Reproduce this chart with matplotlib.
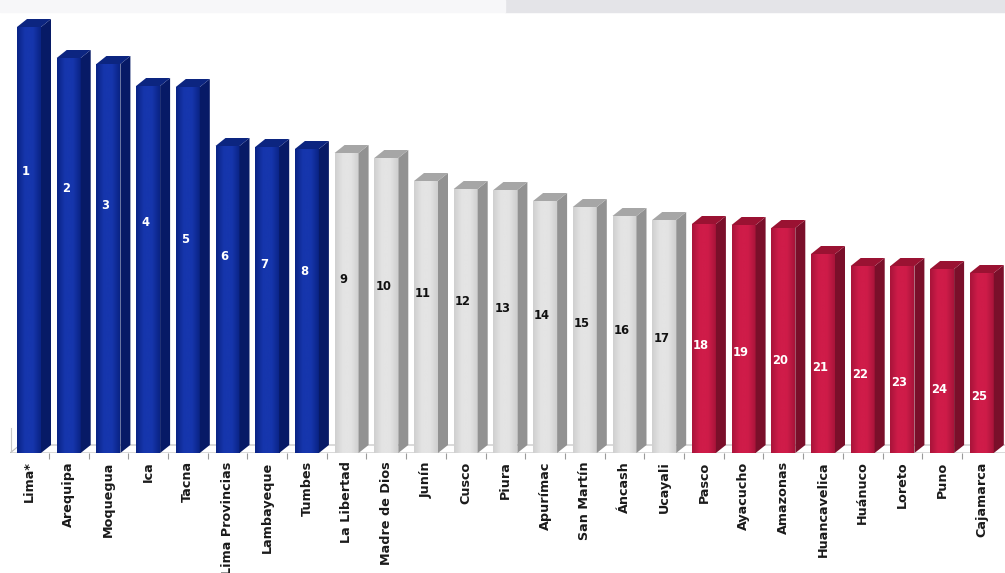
import numpy as np
import matplotlib
matplotlib.use("Agg")
import matplotlib.pyplot as plt
from matplotlib.patches import Polygon, Rectangle
from matplotlib.colors import LinearSegmentedColormap

# Regional ranking: region names, scores and rank group
regions = ["Lima*", "Arequipa", "Moquegua", "Ica", "Tacna", "Lima Provincias",
           "Lambayeque", "Tumbes", "La Libertad", "Madre de Dios", "Junín", "Cusco",
           "Piura", "Apurímac", "San Martín", "Áncash", "Ucayali", "Pasco",
           "Ayacucho", "Amazonas", "Huancavelica", "Huánuco", "Loreto", "Puno",
           "Cajamarca"]
scores = [8.52, 7.90, 7.78, 7.34, 7.32, 6.14, 6.12, 6.08, 6.00, 5.90, 5.44, 5.28,
          5.26, 5.04, 4.92, 4.74, 4.66, 4.58, 4.56, 4.50, 3.98, 3.74, 3.74, 3.68,
          3.60]
ranks = list(range(1, 26))
groups = ["top"] * 8 + ["middle"] * 9 + ["bottom"] * 8

# face colours per group: (front edge, front centre, side, top, label)
palette = {
    "top":    ("#0a2384", "#1636ad", "#071a66", "#0c2580", "white"),
    "middle": ("#cfcfcf", "#e4e4e4", "#929292", "#a6a6a6", "#111111"),
    "bottom": ("#a8143a", "#cf1c49", "#7a0f2a", "#9a1232", "white"),
}

W, H, DPI = 1005, 573, 100
fig = plt.figure(figsize=(W / DPI, H / DPI), dpi=DPI)
fig.patch.set_facecolor("white")

# faded banner strip along the top edge
fig.patches.append(Rectangle((505 / W, 1 - 12 / H), 500 / W, 12 / H,
                             transform=fig.transFigure, color="#e4e4e8", zorder=0))
fig.patches.append(Rectangle((0, 1 - 12 / H), 505 / W, 12 / H,
                             transform=fig.transFigure, color="#f7f7f9", zorder=0))

px_x = 39.7      # pixels per category
px_y = 50.0      # pixels per score unit
x0_px = 29.0     # centre of first bar (pixels)
left_px, base_px = 10.0, 453.0
ax = fig.add_axes([left_px / W, (H - base_px) / H, (W - left_px) / W, base_px / H])
ax.set_xlim((left_px - x0_px) / px_x, (W - x0_px) / px_x)
ax.set_ylim(0, base_px / px_y)
ax.set_facecolor("none")
for s in ax.spines.values():
    s.set_visible(False)

bw = 24 / px_x          # front face width
dx = 10 / px_x          # depth offset (x)
dy = 8 / px_y           # depth offset (y)
n = len(regions)
xs = np.arange(n)

# floor
x_lo, x_hi = ax.get_xlim()
ax.add_patch(Polygon([(x_lo, 0), (x_hi, 0), (x_hi + dx, dy), (x_lo + dx, dy)],
                     closed=True, facecolor="white", edgecolor="#bdbdbd", lw=0.8, zorder=1))
ax.plot([x_lo + 0.02, x_lo + 0.02], [0, 0.5], color="#c8c8c8", lw=0.8, zorder=1)

bars = ax.bar(xs, scores, width=bw, color="none", zorder=3)
for x, h, g, bar in zip(xs, scores, groups, bars):
    c_edge, c_mid, c_side, c_top, _ = palette[g]
    xl, xr = x - bw / 2, x + bw / 2
    # front face with horizontal shading
    cmap = LinearSegmentedColormap.from_list("f", [c_edge, c_mid, c_mid, c_edge])
    grad = np.linspace(0, 1, 64).reshape(1, -1)
    im = ax.imshow(grad, cmap=cmap, extent=(xl, xr, 0, h), aspect="auto",
                   zorder=3, interpolation="bicubic")
    im.set_clip_path(bar)
    # side face
    ax.add_patch(Polygon([(xr, 0), (xr + dx, dy), (xr + dx, h + dy), (xr, h)],
                         closed=True, facecolor=c_side, edgecolor="none", zorder=3))
    # top face
    ax.add_patch(Polygon([(xl, h), (xr, h), (xr + dx, h + dy), (xl + dx, h + dy)],
                         closed=True, facecolor=c_top, edgecolor="none", zorder=3))

# rank numbers inside the bars, stepping down from left to right
for i, (x, r, g) in enumerate(zip(xs, ranks, groups)):
    y_px = 56 + 7.37 * (n - 1 - i) + 9.63 * max(0, 5 - i)
    off = 5 if r < 10 else 1
    ax.text(x - bw / 2 + off / px_x, y_px / px_y, str(r), ha="left", va="center",
            fontsize=8.3, fontweight="bold", color=palette[g][4], zorder=5)

ax.set_xticks(xs)
ax.set_xticklabels(regions, rotation=90, fontsize=9.2, fontweight="bold",
                   color="#1a1a1a", va="top", ha="center")
ax.tick_params(axis="x", which="major", length=0, pad=6)
ax.set_xticks(xs[:-1] + 0.5, minor=True)
ax.tick_params(axis="x", which="minor", length=4, width=0.8, color="#9a9a9a")
ax.set_yticks([])

fig.savefig("out.png", dpi=DPI, facecolor="white")
